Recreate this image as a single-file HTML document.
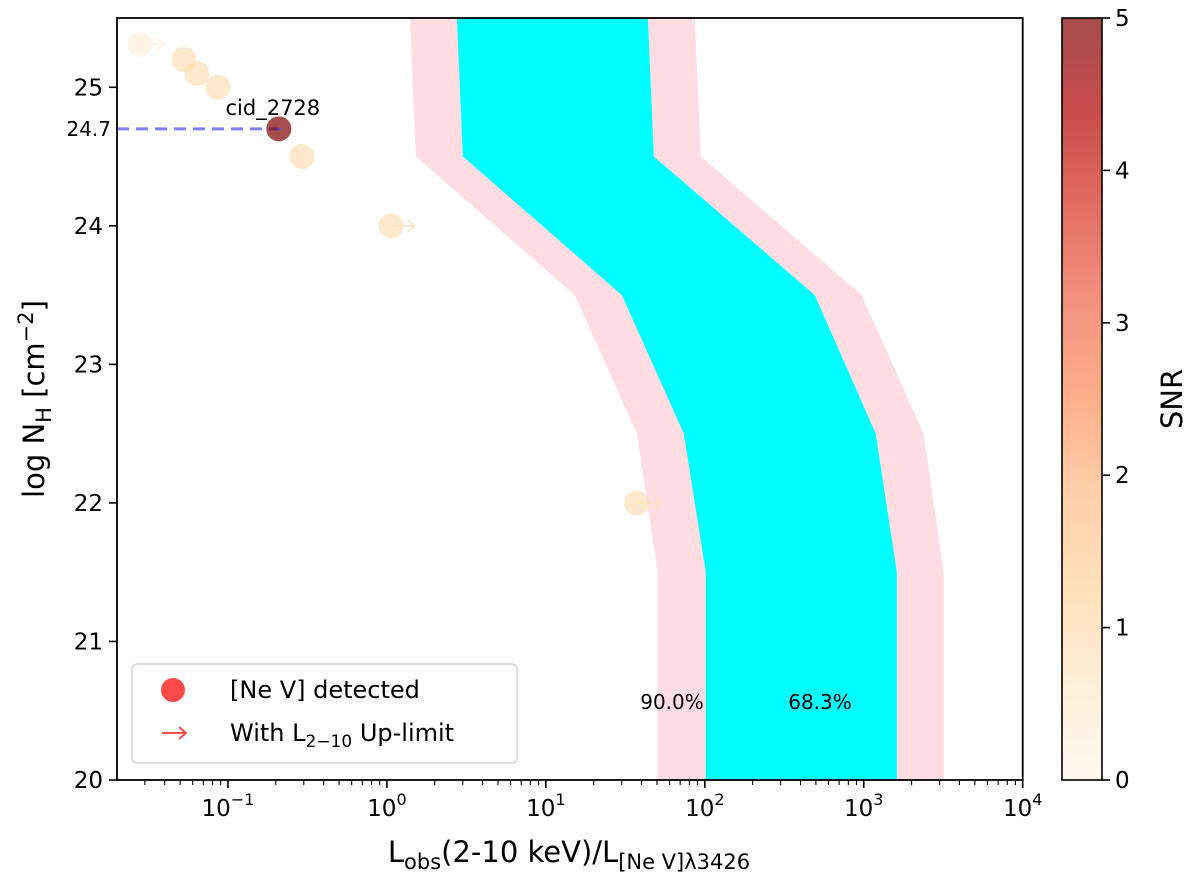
<!DOCTYPE html>
<html><head><meta charset="utf-8"><style>
body{margin:0;background:#fff;}
svg text{font-family:"DejaVu Sans","Liberation Sans",sans-serif;fill:#000;}
</style></head><body>
<svg id="chart" width="1200" height="885" viewBox="0 0 1200 885" xmlns="http://www.w3.org/2000/svg">
<defs>
<linearGradient id="cmap" x1="0" y1="1" x2="0" y2="0">
<stop offset="0" stop-color="#fff7ec"/><stop offset="0.125" stop-color="#fee8c8"/><stop offset="0.25" stop-color="#fdd49e"/><stop offset="0.375" stop-color="#fdbb84"/><stop offset="0.5" stop-color="#fc8d59"/><stop offset="0.625" stop-color="#ef6548"/><stop offset="0.75" stop-color="#d7301f"/><stop offset="0.875" stop-color="#b30000"/><stop offset="1" stop-color="#7f0000"/>
</linearGradient>
<clipPath id="clip"><rect x="117" y="18" width="905.7" height="762"/></clipPath>
</defs>
<g id="bands" clip-path="url(#clip)"></g>
<g id="marks" clip-path="url(#clip)"></g>
<g id="axes"></g>
</svg>
<script>
const bandY = [25.5, 24.5, 23.5, 22.5, 21.5, 20];
const pinkLeft = [0.145, 0.182, 1.182, 1.572, 1.704, 1.704];
const pinkRight = [1.937, 1.975, 2.987, 3.377, 3.503, 3.503];
const cyanLeft = [0.440, 0.478, 1.478, 1.868, 2.006, 2.006];
const cyanRight = [1.642, 1.679, 2.692, 3.075, 3.208, 3.208];
const ptX = [0.028, 0.0528, 0.0638, 0.0865, 0.209, 0.292, 1.06, 37.3];
const ptY = [25.31, 25.2, 25.1, 25.0, 24.7, 24.5, 24.0, 22.0];
const ptSNR = [0.3, 0.9, 0.9, 0.9, 5.0, 0.9, 0.9, 0.9];
const ptUpper = [true, false, false, false, false, false, true, true];
const xTicks = [-1, 0, 1, 2, 3, 4];
const yTicks = [20, 21, 22, 23, 24, 25];
const cbTicks = [0, 1, 2, 3, 4, 5];

const L=117,R=1022.7,T=18,B=780, XMIN=-1.698, XMAX=4, YMIN=20, YMAX=25.5;
const sx = lg => L + (lg - XMIN) / (XMAX - XMIN) * (R - L);
const sy = v => B - (v - YMIN) / (YMAX - YMIN) * (B - T);
const NS="http://www.w3.org/2000/svg";
function mk(tag, attrs, parent){const e=document.createElementNS(NS,tag);for(const k in attrs)e.setAttribute(k,attrs[k]);parent.appendChild(e);return e;}
const bands=document.getElementById('bands'), marks=document.getElementById('marks'), axes=document.getElementById('axes');

function band(left,right,color,name){
  const pts=[];
  for(let i=0;i<bandY.length;i++)pts.push(sx(left[i])+','+sy(bandY[i]));
  for(let i=bandY.length-1;i>=0;i--)pts.push(sx(right[i])+','+sy(bandY[i]));
  const p=mk('polygon',{points:pts.join(' '),fill:color},bands);
  
  
}
band(pinkLeft,pinkRight,'#ffdde3','band-90');
band(cyanLeft,cyanRight,'#00ffff','band-68');

const stops=[[255,247,236],[254,232,200],[253,212,158],[253,187,132],[252,141,89],[239,101,72],[215,48,31],[179,0,0],[127,0,0]];
function cm(v){let t=Math.max(0,Math.min(1,v/5))*8;let i=Math.min(7,Math.floor(t));let f=t-i;const c=stops[i].map((a,k)=>Math.round(a+(stops[i+1][k]-a)*f));return 'rgb('+c.join(',')+')';}

const dl=mk('line',{x1:L,y1:sy(ptY[4]),x2:sx(Math.log10(ptX[4])),y2:sy(ptY[4]),stroke:'#0000ff','stroke-opacity':0.5,'stroke-width':3,'stroke-dasharray':'12,7'},marks);



for(let i=0;i<ptX.length;i++){
  const cx=sx(Math.log10(ptX[i])), cy=sy(ptY[i]), col=cm(ptSNR[i]);
  const c=mk('circle',{cx:cx,cy:cy,r:12.5,fill:col,'fill-opacity':0.7},marks);
  
  
  if(ptUpper[i]){
    const a=mk('path',{d:`M${cx} ${cy}H${cx+24}M${cx+17} ${cy-6}L${cx+24} ${cy}L${cx+17} ${cy+6}`,stroke:col,'stroke-opacity':0.7,'stroke-width':2,fill:'none'},marks);
    
    
  }
}
mk('circle',{cx:sx(Math.log10(ptX[4])),cy:sy(ptY[4]),r:1.5,fill:'#4040ff'},marks);
const lab=mk('text',{x:sx(Math.log10(ptX[4]))-6,y:sy(ptY[4])-14,'font-size':21,'text-anchor':'middle'},marks);lab.textContent='cid_2728';


const l1=mk('text',{x:672,y:709,'font-size':20,'text-anchor':'middle'},marks);l1.textContent='90.0%';


const l2=mk('text',{x:820,y:709,'font-size':20,'text-anchor':'middle'},marks);l2.textContent='68.3%';



const fr=mk('rect',{x:L,y:T,width:R-L,height:B-T,fill:'none',stroke:'#000','stroke-width':1.8},axes);


for(const t of xTicks){
  const x=sx(t);
  mk('line',{x1:x,y1:B,x2:x,y2:B+8,stroke:'#000','stroke-width':1.6},axes);
  const tx=mk('text',{x:x,y:B+36,'font-size':23,'text-anchor':'middle'},axes);
  tx.innerHTML='10<tspan dy="-11" font-size="16">'+(t<0?'\u2212'+(-t):t)+'</tspan>';
  
  
}
for(let d=-2;d<4;d++)for(let m=2;m<10;m++){const lg=d+Math.log10(m);if(lg<XMIN)continue;const x=sx(lg);mk('line',{x1:x,y1:B,x2:x,y2:B+5,stroke:'#000','stroke-width':1.1},axes);}
for(const t of yTicks){
  const y=sy(t);
  mk('line',{x1:L-8,y1:y,x2:L,y2:y,stroke:'#000','stroke-width':1.6},axes);
  const ty=mk('text',{x:L-14,y:y+8,'font-size':23,'text-anchor':'end'},axes);ty.textContent=t;
  
  
}
const v=mk('text',{x:L-6,y:sy(ptY[4])+7,'font-size':20,'text-anchor':'end'},axes);v.textContent='24.7';


const xt=mk('text',{x:569,y:862,'font-size':29,'text-anchor':'middle'},axes);
xt.innerHTML='L<tspan dy="7" font-size="21">obs</tspan><tspan dy="-7">(2-10 keV)/L</tspan><tspan dy="7" font-size="21">[Ne V]λ3426</tspan>';


const yt=mk('text',{transform:'translate(44,399) rotate(-90)','font-size':29,'text-anchor':'middle'},axes);
yt.innerHTML='log N<tspan dy="7" font-size="21">H</tspan><tspan dy="-7"> [cm</tspan><tspan dy="-11" font-size="21">−2</tspan><tspan dy="11">]</tspan>';



const lg=mk('g',{},axes);


mk('rect',{x:132,y:664,width:385,height:99,rx:5,fill:'#fff','fill-opacity':0.8,stroke:'#ccc','stroke-width':1.2},lg);
mk('circle',{cx:173,cy:690,r:12,fill:'#ff4a4a'},lg);
mk('path',{d:'M162 733H186M179 727L186 733L179 739',stroke:'#ff4a4a','stroke-width':2,fill:'none'},lg);
const e1=mk('text',{x:230,y:698,'font-size':24},lg);e1.textContent='[Ne V] detected';


const e2=mk('text',{x:230,y:741,'font-size':24},lg);e2.innerHTML='With L<tspan dy="6" font-size="17">2−10</tspan><tspan dy="-6"> Up-limit</tspan>';



const CX=1062,CW=40;
const cb=mk('rect',{x:CX,y:T,width:CW,height:B-T,fill:'url(#cmap)','fill-opacity':0.7,stroke:'#000','stroke-width':1.6},axes);


for(const t of cbTicks){
  const y=B-t/5*(B-T);
  mk('line',{x1:CX+CW,y1:y,x2:CX+CW+8,y2:y,stroke:'#000','stroke-width':1.6},axes);
  const c=mk('text',{x:CX+CW+13,y:y+8,'font-size':23},axes);c.textContent=t;
  
  
}
const cbt=mk('text',{transform:'translate(1182,399) rotate(-90)','font-size':29,'text-anchor':'middle'},axes);cbt.textContent='SNR';


</script>
</body></html>
